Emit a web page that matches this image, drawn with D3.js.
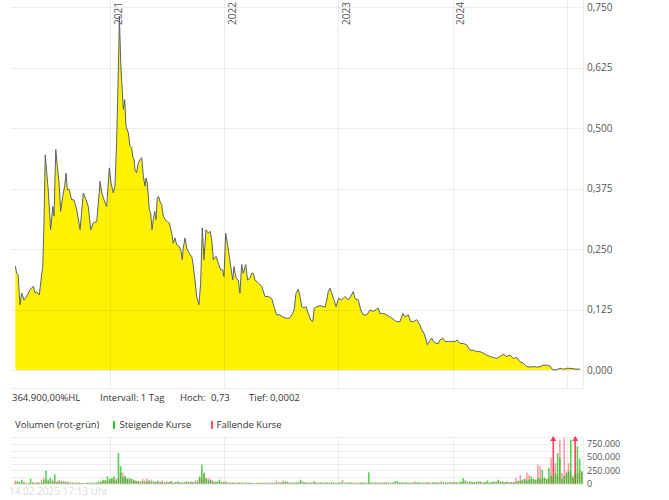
<!DOCTYPE html>
<html><head><meta charset="utf-8">
<script src="https://cdn.jsdelivr.net/npm/d3@7"></script>
<style>body{margin:0;background:#fff} svg{display:block} text{font-family:"Open Sans",sans-serif}</style>
</head><body><svg id="c" width="669" height="500"></svg>
<script>
// ---- data (time as decimal years) ----
const priceT = [
2020.171,2020.183,2020.195,2020.212,2020.227,2020.247,2020.270,2020.299,2020.329,2020.344,
2020.358,2020.381,2020.393,2020.411,2020.422,2020.433,2020.446,2020.459,2020.480,2020.499,
2020.510,2020.525,2020.539,2020.554,2020.568,2020.586,2020.603,2020.615,2020.626,2020.643,
2020.664,2020.684,2020.709,2020.738,2020.766,2020.790,2020.810,2020.831,2020.853,2020.884,
2020.913,2020.928,2020.948,2020.971,2020.994,2021.009,2021.029,2021.043,2021.058,2021.067,
2021.077,2021.082,2021.094,2021.103,2021.117,2021.129,2021.140,2021.160,2021.175,2021.190,
2021.199,2021.210,2021.219,2021.233,2021.247,2021.262,2021.278,2021.292,2021.307,2021.315,
2021.327,2021.336,2021.344,2021.356,2021.368,2021.379,2021.391,2021.403,2021.414,2021.426,
2021.437,2021.452,2021.467,2021.482,2021.502,2021.519,2021.540,2021.554,2021.569,2021.584,
2021.607,2021.619,2021.633,2021.641,2021.657,2021.672,2021.686,2021.701,2021.716,2021.730,
2021.744,2021.759,2021.779,2021.794,2021.808,2021.823,2021.840,2021.861,2021.876,2021.891,
2021.905,2021.928,2021.948,2021.969,2021.987,2021.998,2022.013,2022.028,2022.045,2022.057,
2022.075,2022.086,2022.104,2022.123,2022.138,2022.153,2022.167,2022.188,2022.205,2022.226,
2022.241,2022.255,2022.270,2022.299,2022.328,2022.357,2022.386,2022.416,2022.436,2022.460,
2022.489,2022.517,2022.547,2022.570,2022.591,2022.612,2022.629,2022.649,2022.664,2022.679,
2022.699,2022.716,2022.736,2022.757,2022.775,2022.790,2022.810,2022.839,2022.883,2022.898,
2022.911,2022.926,2022.941,2022.961,2022.980,2023.000,2023.029,2023.058,2023.087,2023.108,
2023.130,2023.145,2023.174,2023.196,2023.218,2023.248,2023.277,2023.305,2023.335,2023.349,
2023.364,2023.394,2023.423,2023.452,2023.481,2023.510,2023.539,2023.564,2023.584,2023.612,
2023.633,2023.656,2023.686,2023.714,2023.729,2023.750,2023.768,2023.779,2023.796,2023.817,
2023.831,2023.855,2023.875,2023.889,2023.913,2023.934,2023.963,2023.992,2024.021,2024.041,
2024.065,2024.093,2024.123,2024.153,2024.182,2024.211,2024.240,2024.269,2024.298,2024.327,
2024.357,2024.386,2024.415,2024.444,2024.474,2024.502,2024.532,2024.562,2024.590,2024.619,
2024.649,2024.677,2024.706,2024.737,2024.766,2024.795,2024.824,2024.853,2024.876,2024.912,
2024.941,2024.970,2024.999,2025.028,2025.072,2025.116];
const priceV = [
0.215,0.200,0.197,0.135,0.159,0.145,0.152,0.166,0.173,0.159,
0.162,0.155,0.180,0.214,0.304,0.445,0.408,0.373,0.290,0.338,
0.318,0.456,0.421,0.387,0.328,0.359,0.380,0.407,0.373,0.373,
0.352,0.352,0.331,0.290,0.366,0.352,0.338,0.290,0.304,0.307,
0.390,0.366,0.352,0.338,0.418,0.387,0.366,0.380,0.470,0.559,
0.663,0.732,0.635,0.595,0.539,0.559,0.504,0.491,0.463,0.459,
0.442,0.435,0.414,0.408,0.428,0.435,0.439,0.400,0.380,0.397,
0.387,0.359,0.331,0.325,0.290,0.311,0.328,0.311,0.356,0.359,
0.349,0.342,0.318,0.311,0.307,0.304,0.283,0.262,0.273,0.259,
0.255,0.249,0.228,0.252,0.273,0.252,0.245,0.238,0.235,0.214,
0.186,0.152,0.135,0.180,0.294,0.228,0.290,0.283,0.287,0.269,
0.228,0.235,0.221,0.207,0.207,0.193,0.283,0.262,0.235,0.214,
0.186,0.214,0.190,0.186,0.159,0.218,0.200,0.218,0.186,0.190,
0.200,0.200,0.186,0.180,0.173,0.152,0.152,0.148,0.131,0.114,
0.114,0.109,0.107,0.107,0.114,0.124,0.159,0.167,0.152,0.131,
0.128,0.131,0.117,0.104,0.100,0.128,0.131,0.133,0.130,0.145,
0.162,0.169,0.159,0.145,0.131,0.148,0.145,0.152,0.145,0.152,
0.162,0.148,0.145,0.124,0.114,0.114,0.124,0.121,0.126,0.128,
0.117,0.117,0.114,0.110,0.105,0.100,0.100,0.117,0.110,0.114,
0.100,0.100,0.104,0.093,0.083,0.076,0.062,0.052,0.059,0.066,
0.059,0.055,0.055,0.062,0.066,0.059,0.059,0.059,0.059,0.062,
0.055,0.055,0.052,0.041,0.041,0.038,0.038,0.035,0.031,0.028,
0.026,0.024,0.028,0.033,0.028,0.031,0.024,0.026,0.017,0.014,
0.007,0.006,0.007,0.006,0.007,0.010,0.010,0.008,0.0005,0.0003,
0.0035,0.0015,0.0035,0.0035,0.002,0.0015];

const yearTicks = [2021, 2022, 2023, 2024, 2025];
const yearLabels = ["2021", "2022", "2023", "2024"];
const priceTicks = [0, 0.125, 0.25, 0.375, 0.5, 0.625, 0.75];
const volGrid = [0, 125000, 250000, 375000, 500000, 625000, 750000, 875000];
const volTicks = [0, 250000, 500000, 750000];

// weekly volume, thousands of shares, starting at volStart
const volStart = 2020.17;
const volUpK = [
15,50,30,76,20,10,15,95,20,10, 20,15,25,60,245,80,110,40,175,30,
30,44,25,40,20,15,25,10,15,20, 10,15,10,20,15,10,20,25,44,30,
76,60,139,90,107,139,60,580,330,120, 150,100,107,90,60,50,44,30,40,25,
40,60,25,44,30,60,25,30,20,25, 25,50,20,30,44,25,20,30,50,25,
25,30,20,30,139,360,200,107,60,76, 30,25,40,76,30,25,20,15,25,20,
15,20,15,25,10,20,15,20,10,15, 15,20,10,15,20,15,10,20,15,20,
20,15,25,44,30,20,15,25,20,30, 76,20,30,15,25,20,44,15,20,25,
15,25,20,15,30,20,15,20,25,20, 15,20,25,15,20,10,20,15,25,15,
20,215,15,20,25,15,20,15,25,20, 20,15,25,44,50,20,30,15,25,20,
20,25,15,20,30,20,15,25,20,15, 25,20,30,15,25,20,30,20,25,20,
30,20,25,44,107,60,25,44,30,25, 30,44,25,20,30,60,25,30,44,25,
76,30,44,25,30,20,30,25,30,44, 60,76,90,60,76,139,90,76,107,90,
265,107,90,300,150,120,200,580,486,90, 150,200,233,833,107,200,707,470,230];
const volDownK = [
60,30,20,15,40,10,20,15,30,20, 30,20,76,107,60,40,50,76,40,44,
76,44,50,30,44,25,15,20,25,15, 15,10,20,10,15,20,10,20,15,44,
40,76,60,76,90,60,95,100,215,210, 120,90,70,90,76,60,50,44,90,60,
100,44,76,30,44,25,44,60,30,44, 30,44,25,20,30,20,25,20,30,25,
44,30,60,76,107,90,210,90,107,76, 60,44,30,44,25,30,44,20,15,25,
20,15,25,15,20,25,10,15,20,10, 20,10,25,15,20,10,25,15,20,60,
25,30,60,20,44,25,20,15,25,20, 30,44,20,25,15,20,25,30,15,20,
20,15,25,20,15,25,20,15,20,76, 20,15,20,25,15,20,15,20,15,20,
15,20,25,15,20,25,15,20,15,25, 25,20,15,25,20,30,15,25,20,15,
15,20,44,25,20,15,25,20,30,20, 20,25,15,20,44,25,20,15,25,30,
25,30,20,25,30,44,25,20,30,25, 25,30,44,25,30,20,25,30,25,44,
60,44,30,25,44,30,25,30,107,60, 170,60,90,210,170,76,90,60,360,330,
90,120,76,100,486,1100,390,150,833,200, 870,233,390,200,150,1100,200,265,233];

// ---- drawing ----
const svg = d3.select("#c");
const L = 11, R = 583;
const x = d3.scaleLinear().domain([2020, 2025]).range([-4.2, 566.8]);
const y = d3.scaleLinear().domain([0, 0.75]).range([370, 7.3]);
const yv = d3.scaleLinear().domain([0, 875000]).range([483.7, 437.4]);
const gridCol = "rgba(0,0,0,0.07)";
const loc = d3.formatLocale({decimal: ",", thousands: ".", grouping: [3], currency: ["", "€"]});
const fPrice = loc.format(".3f");
const fVol = loc.format(",d");

const price = priceT.map((t, i) => ({t, v: priceV[i]}));

// area + line
svg.append("path").datum(price)
  .attr("d", d3.area().x(d => x(d.t)).y0(y(0)).y1(d => y(d.v)))
  .attr("fill", "#fff200");
svg.append("path").datum(price)
  .attr("d", d3.line().x(d => x(d.t)).y(d => y(d.v)))
  .attr("fill", "none").attr("stroke", "#58626c").attr("stroke-width", 1);

// grids price panel
svg.append("g").selectAll("line").data(priceTicks).join("line")
  .attr("x1", L).attr("x2", R).attr("y1", d => Math.round(y(d)) + 0.5).attr("y2", d => Math.round(y(d)) + 0.5)
  .attr("stroke", gridCol);
svg.append("g").selectAll("line").data(yearTicks).join("line")
  .attr("x1", d => Math.round(x(d)) + 0.5).attr("x2", d => Math.round(x(d)) + 0.5)
  .attr("y1", 0).attr("y2", 388).attr("stroke", gridCol);
svg.append("line").attr("x1", L).attr("x2", R).attr("y1", 388.5).attr("y2", 388.5).attr("stroke", gridCol);
svg.append("line").attr("x1", R + 0.5).attr("x2", R + 0.5).attr("y1", 0).attr("y2", 388).attr("stroke", gridCol);

// price axis labels
svg.append("g").selectAll("text").data(priceTicks).join("text")
  .attr("x", 587).attr("y", d => y(d)).attr("dy", "0.35em")
  .attr("font-size", 10).attr("fill", "#555").text(d => fPrice(d));

// year labels
svg.append("g").selectAll("text").data(yearLabels).join("text")
  .attr("transform", d => `translate(${x(+d) + 8},25) rotate(-90)`)
  .attr("dy", "0.35em").attr("font-size", 10).attr("fill", "#555").text(d => d);

// info line
const info = svg.append("g").attr("font-size", 9.5).attr("fill", "#333");
info.append("text").attr("x", 12).attr("y", 398).attr("dy", "0.35em").text("364.900,00%HL");
info.append("text").attr("x", 100).attr("y", 398).attr("dy", "0.35em").text("Intervall: 1 Tag");
info.append("text").attr("x", 180).attr("y", 398).attr("dy", "0.35em").text("Hoch:");
info.append("text").attr("x", 211).attr("y", 398).attr("dy", "0.35em").text("0,73");
info.append("text").attr("x", 249).attr("y", 398).attr("dy", "0.35em").text("Tief: 0,0002");

// volume legend
const leg = svg.append("g").attr("font-size", 9.5).attr("fill", "#333");
leg.append("text").attr("x", 15).attr("y", 425).attr("dy", "0.35em").text("Volumen (rot-grün)");
leg.append("rect").attr("x", 113).attr("y", 421).attr("width", 2).attr("height", 8).attr("fill", "#22cc22");
leg.append("text").attr("x", 119.5).attr("y", 425).attr("dy", "0.35em").text("Steigende Kurse");
leg.append("rect").attr("x", 211).attr("y", 421).attr("width", 2).attr("height", 8).attr("fill", "#ff5060");
leg.append("text").attr("x", 216.5).attr("y", 425).attr("dy", "0.35em").text("Fallende Kurse");

// volume grid
svg.append("g").selectAll("line").data(volGrid).join("line")
  .attr("x1", L).attr("x2", R).attr("y1", d => Math.round(yv(d)) + 0.5).attr("y2", d => Math.round(yv(d)) + 0.5)
  .attr("stroke", gridCol);
svg.append("g").selectAll("line").data(yearTicks).join("line")
  .attr("x1", d => Math.round(x(d)) + 0.5).attr("x2", d => Math.round(x(d)) + 0.5)
  .attr("y1", 437).attr("y2", 484).attr("stroke", gridCol);
svg.append("line").attr("x1", R + 0.5).attr("x2", R + 0.5).attr("y1", 437).attr("y2", 484).attr("stroke", gridCol);

// volume bars
const vmax = yv.domain()[1];
const vol = volUpK.map((u, i) => ({t: volStart + i / 52, up: u * 1000, down: volDownK[i] * 1000}));
const bw = 1.6;
svg.append("g").selectAll("rect").data(vol).join("rect")
  .attr("x", d => x(d.t) - bw / 2).attr("width", bw)
  .attr("y", d => yv(Math.min(d.down, vmax))).attr("height", d => yv(0) - yv(Math.min(d.down, vmax)))
  .attr("fill", "#ff3a50").attr("fill-opacity", d => d.down > vmax ? 0.95 : 0.5);
svg.append("g").selectAll("rect").data(vol).join("rect")
  .attr("x", d => x(d.t) - bw / 2).attr("width", bw)
  .attr("y", d => yv(Math.min(d.up, vmax))).attr("height", d => yv(0) - yv(Math.min(d.up, vmax)))
  .attr("fill", "#10c010").attr("fill-opacity", 0.7);
// clipped arrows
const clipped = vol.filter(d => d.down > vmax);
svg.append("g").selectAll("path").data(clipped).join("path")
  .attr("d", d => { const cx = x(d.t), ty = yv(vmax) - 1.5; return `M${cx - 3},${ty + 5}L${cx + 3},${ty + 5}L${cx},${ty}Z`; })
  .attr("fill", "#ff3a50");

// volume labels
svg.append("g").selectAll("text").data(volTicks).join("text")
  .attr("x", 587).attr("y", d => yv(d)).attr("dy", "0.35em")
  .attr("font-size", 9).attr("fill", "#555").text(d => fVol(d));

// timestamp
svg.append("text").attr("x", 9).attr("y", 491.5).attr("dy", "0.35em")
  .attr("font-size", 10).attr("fill", "#dcdcdc").text("14.02.2025 17:13 Uhr");
</script>
</body></html>
